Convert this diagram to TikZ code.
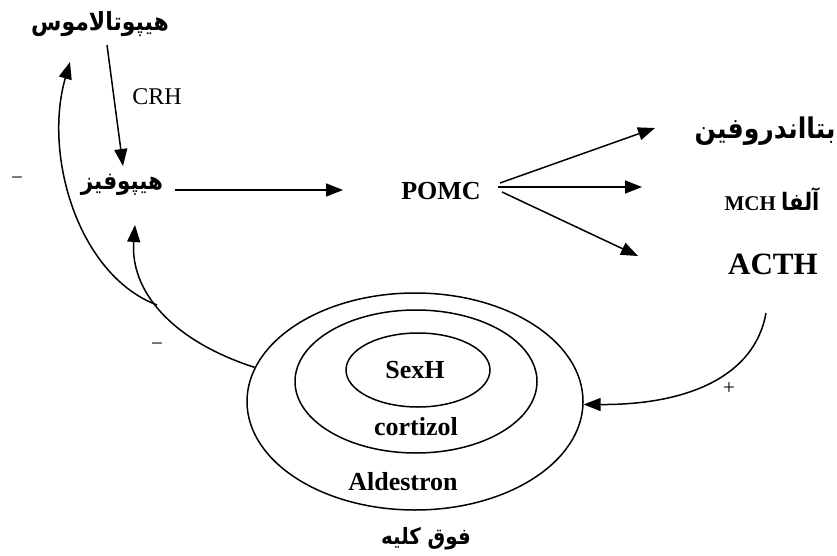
\documentclass[tikz,border=0pt]{standalone}
\usepackage{fontspec}
\setmainfont{Liberation Serif}
\newfontfamily\arabicfont[Script=Arabic,FakeStretch=0.88]{DejaVu Sans}
\TeXXeTstate=1
\usetikzlibrary{arrows.meta,shapes.geometric}
\begin{document}
\begin{tikzpicture}[x=1pt,y=-1pt,
  arr/.style={line width=1.5pt,-{Triangle[length=17pt,width=13pt]}},
  fa/.style={inner sep=0pt,font=\arabicfont\bfseries\fontsize{#1}{#1}\selectfont},
  lat/.style={inner sep=0pt,font=\bfseries\fontsize{#1}{#1}\selectfont},
  reg/.style={inner sep=0pt,font=\fontsize{#1}{#1}\selectfont},
  ell/.style={draw,ellipse,line width=1.5pt,inner sep=0pt}]
\useasboundingbox (0,0) rectangle (837,556);
% text nodes
\node[fa=25] (hyt) at (100,24) {\beginR هیپوتالاموس\endR};
\node[reg=24] (crh) at (157,97) {CRH};
\node[fa=24.5] (hyp) at (122,185) {\beginR هیپوفیز\endR};
\node[lat=26] (pomc) at (441,191) {POMC};
\node[fa=28.5] (beta) at (765,131) {\beginR بتااندروفین\endR};
\node[lat=21] (mch) at (772,199) {MCH {\arabicfont\fontsize{24}{24}\selectfont\beginR آلفا\endR}};
\node[lat=31] (acth) at (773,264) {ACTH};
% ellipses
\node[ell,minimum width=336pt,minimum height=217pt] (outer) at (415,401.5) {};
\node[ell,minimum width=242pt,minimum height=143pt] (middle) at (416,381.5) {};
\node[ell,minimum width=144pt,minimum height=74pt] (inner) at (418,370) {};
\node[lat=26] (sexh) at (415,370) {SexH};
\node[lat=26] (cort) at (416,427) {cortizol};
\node[lat=26] (ald) at (403,482) {Aldestron};
\node[fa=22.5] (kidney) at (426,539) {\beginR فوق کلیه\endR};
% signs
\node[reg=21] (m1) at (17,181) {−};
\node[reg=21] (m2) at (157,347) {−};
\node[reg=21] (p1) at (729,389) {+};
% connector end points
\coordinate (h1) at (107,45);
\coordinate (h2) at (123,166);
\coordinate (q1) at (175,190);
\coordinate (q2) at (343,190);
\coordinate (s1) at (500,183);
\coordinate (s2) at (498,187);
\coordinate (s3) at (502,192);
\coordinate (e1) at (655,128);
\coordinate (e2) at (642,187);
\coordinate (e3) at (638,256);
\coordinate (a0) at (766,313);
\coordinate (t1) at (70,62);
\coordinate (t2) at (135,225);
\coordinate (j) at (157,305);
% connectors
\draw[arr] (h1) -- (h2);
\draw[arr] (q1) -- (q2);
\draw[arr] (s1) -- (e1);
\draw[arr] (s2) -- (e2);
\draw[arr] (s3) -- (e3);
\draw[arr] (a0) .. controls (755,375) and (690,405) .. (outer.-1);
\draw[arr] (outer.168) .. controls (170,340) and (130,290) .. (t2);
\draw[arr] (j) .. controls (78,275) and (43,155) .. (t1);
\end{tikzpicture}
\end{document}
